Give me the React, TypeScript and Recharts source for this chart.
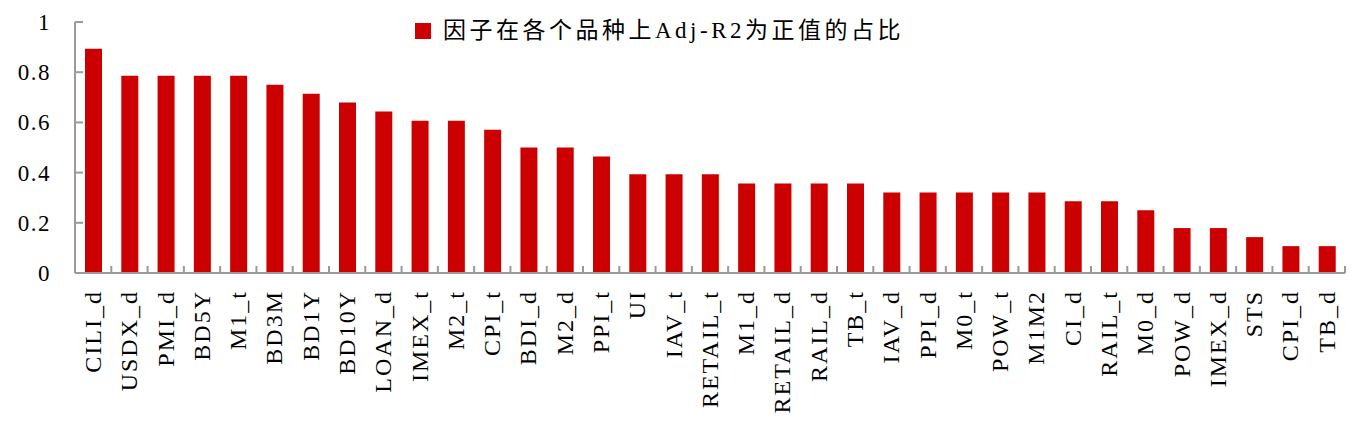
import React from 'react';
import { BarChart, Bar, XAxis, YAxis } from 'recharts';

const factors = [
  'CILI_d', 'USDX_d', 'PMI_d', 'BD5Y', 'M1_t', 'BD3M', 'BD1Y', 'BD10Y', 'LOAN_d',
  'IMEX_t', 'M2_t', 'CPI_t', 'BDI_d', 'M2_d', 'PPI_t', 'UI', 'IAV_t', 'RETAIL_t',
  'M1_d', 'RETAIL_d', 'RAIL_d', 'TB_t', 'IAV_d', 'PPI_d', 'M0_t', 'POW_t', 'M1M2',
  'CI_d', 'RAIL_t', 'M0_d', 'POW_d', 'IMEX_d', 'STS', 'CPI_d', 'TB_d',
];

const positiveShare = [
  0.893, 0.786, 0.786, 0.786, 0.786, 0.75, 0.714, 0.679, 0.643,
  0.607, 0.607, 0.571, 0.5, 0.5, 0.464, 0.393, 0.393, 0.393,
  0.357, 0.357, 0.357, 0.357, 0.321, 0.321, 0.321, 0.321, 0.321,
  0.286, 0.286, 0.25, 0.179, 0.179, 0.143, 0.107, 0.107,
];

const yTicks = [0, 0.2, 0.4, 0.6, 0.8, 1];
const seriesName = '因子在各个品种上Adj-R2为正值的占比';

const data = factors.map((name, i) => ({ name, value: positiveShare[i] }));

const W = 1351;
const H = 415;
const TOP = 14;
const YW = 67;
const RIGHT = 14;
const PLOT_H = 251;
const PLOT_BOTTOM = TOP + PLOT_H;
const BAND = (W - YW - RIGHT) / factors.length;
const AXIS = '#9a9a9a';
const RED = '#cc0000';
const FONT = '"Liberation Serif", "Times New Roman", serif';

const XTick = (props: any) => {
  const { x, payload } = props;
  const ty = PLOT_BOTTOM + 17;
  return (
    <g>
      <line x1={x + BAND / 2} x2={x + BAND / 2} y1={PLOT_BOTTOM - 7} y2={PLOT_BOTTOM} stroke={AXIS} strokeWidth={2} />
      <text
        x={x}
        y={ty}
        dy="0.33em"
        transform={`rotate(-90, ${x}, ${ty})`}
        textAnchor="end"
        fontSize={24}
        letterSpacing={2}
        fontFamily={FONT}
        fill="#000"
      >
        {payload.value}
      </text>
    </g>
  );
};

const YTick = (props: any) => {
  const { y, payload } = props;
  return (
    <g>
      <line x1={YW} x2={YW + 8} y1={y} y2={y} stroke={AXIS} strokeWidth={2} />
      <text x={43} y={y} dy="0.35em" textAnchor="end" fontSize={23} letterSpacing={1.5} fontFamily={FONT} fill="#000">
        {payload.value}
      </text>
    </g>
  );
};

export default function App() {
  return (
    <div style={{ width: W, height: H, position: 'relative' }}>
      <BarChart width={W} height={H} data={data} margin={{ top: TOP, right: RIGHT, left: 0, bottom: 0 }}>
        <XAxis
          dataKey="name"
          interval={0}
          height={H - TOP - PLOT_H}
          tickLine={false}
          axisLine={{ stroke: AXIS, strokeWidth: 2 }}
          tick={<XTick />}
        />
        <YAxis
          width={YW}
          domain={[0, 1]}
          ticks={yTicks}
          tickLine={false}
          axisLine={{ stroke: AXIS, strokeWidth: 2 }}
          tick={<YTick />}
        />
        <Bar dataKey="value" name={seriesName} fill={RED} barSize={17} isAnimationActive={false} />
      </BarChart>
      <div style={{ position: 'absolute', top: 9, left: 407, display: 'flex', alignItems: 'center', whiteSpace: 'nowrap' }}>
        <span style={{ width: 16, height: 16, background: RED, display: 'inline-block', marginRight: 12 }} />
        <span style={{ fontSize: 23, lineHeight: '28px', letterSpacing: 3.5, color: '#000', fontFamily: '"Liberation Serif", "Noto Sans CJK SC", serif' }}>
          {seriesName}
        </span>
      </div>
    </div>
  );
}
